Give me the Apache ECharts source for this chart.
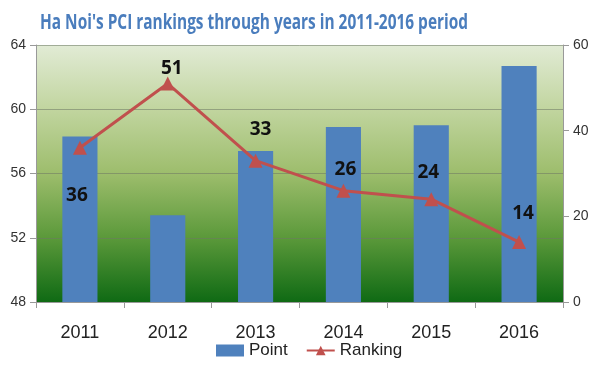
<!DOCTYPE html>
<html><head><meta charset="utf-8">
<script src="https://cdn.jsdelivr.net/npm/echarts@6/dist/echarts.min.js"></script>
<style>html,body{margin:0;padding:0;background:#fff}#c{width:600px;height:370px}</style>
</head><body><div id="c"></div>
<script>
const years = ['2011','2012','2013','2014','2015','2016'];
const points = [58.3, 53.4, 57.4, 58.9, 59.0, 62.7];
const rankings = [36, 51, 33, 26, 24, 14];
const leftTicks = [48, 64, 4];
const rightTicks = [0, 60, 20];
const labelOffsets = [[-3,48],[4,-15],[5,-31],[2,-21],[-3,-27],[4,-28]];
const titleText = "Ha Noi's PCI rankings through years in 2011-2016 period";

const titleFont = 'bold 21px "Open Sans"';
const cv = document.createElement('canvas').getContext('2d');
cv.font = titleFont;
const tw = cv.measureText(titleText).width || 500;
const sx = 428 / tw;

const chart = echarts.init(document.getElementById('c'), null, {renderer:'canvas'});
chart.setOption({
  animation: false,
  backgroundColor: '#fff',
  graphic: [{
    type:'text', x: 40, y: 23, scaleX: sx, scaleY: 1,
    style:{text: titleText, font: titleFont, fill:'#4a7dbd', textVerticalAlign:'middle', textAlign:'left'}
  }],
  legend: {
    bottom: 6, left: 211, itemGap: 18, itemWidth: 28, itemHeight: 12,
    textStyle: {fontSize: 17, color:'#222', fontFamily:'Liberation Sans'},
    data: [{name:'Point', icon:'rect'}, {name:'Ranking'}]
  },
  grid: {
    left: 36, right: 37, top: 45, bottom: 68, show: true, borderWidth: 0,
    backgroundColor: {type:'linear', x:0, y:0, x2:0, y2:1, colorStops:[
      {offset:0, color:'#e1ebd5'},
      {offset:0.25, color:'#c1d59f'},
      {offset:0.5, color:'#9dbd6c'},
      {offset:0.75, color:'#5b993a'},
      {offset:1, color:'#0f6a14'}
    ]}
  },
  xAxis: {
    type: 'category', data: years,
    axisLine: {lineStyle:{color:'#999'}},
    axisTick: {show:true, length:6, lineStyle:{color:'#999'}},
    axisLabel: {fontSize:18, color:'#222', margin:22, fontFamily:'Liberation Sans'}
  },
  yAxis: [{
    type:'value', min: leftTicks[0], max: leftTicks[1], interval: leftTicks[2],
    axisLine:{show:true, lineStyle:{color:'#999'}},
    axisTick:{show:true, length:6, lineStyle:{color:'#999'}},
    axisLabel:{fontSize:14, color:'#333', margin:10, fontFamily:'Liberation Sans'},
    splitLine:{lineStyle:{color:'rgba(110,120,100,0.55)', width:1}}
  },{
    type:'value', min: rightTicks[0], max: rightTicks[1], interval: rightTicks[2],
    axisLine:{show:true, lineStyle:{color:'#999'}},
    axisTick:{show:true, length:6, lineStyle:{color:'#999'}},
    axisLabel:{fontSize:14, color:'#333', margin:10, fontFamily:'Liberation Sans'},
    splitLine:{show:false}
  }],
  series: [{
    name:'Point', type:'bar', data: points, barWidth:'40%',
    itemStyle:{color:'#4f81bd'}
  },{
    name:'Ranking', type:'line', yAxisIndex:1,
    data: rankings.map((v,i)=>({value:v, label:{offset:labelOffsets[i]}})),
    symbol:'triangle', symbolSize:14,
    lineStyle:{color:'#c0504d', width:3},
    itemStyle:{color:'#c0504d'},
    label:{show:true, position:'inside', fontSize:19, fontWeight:'bold', color:'#111', fontFamily:'Open Sans'}
  }]
});
</script></body></html>
